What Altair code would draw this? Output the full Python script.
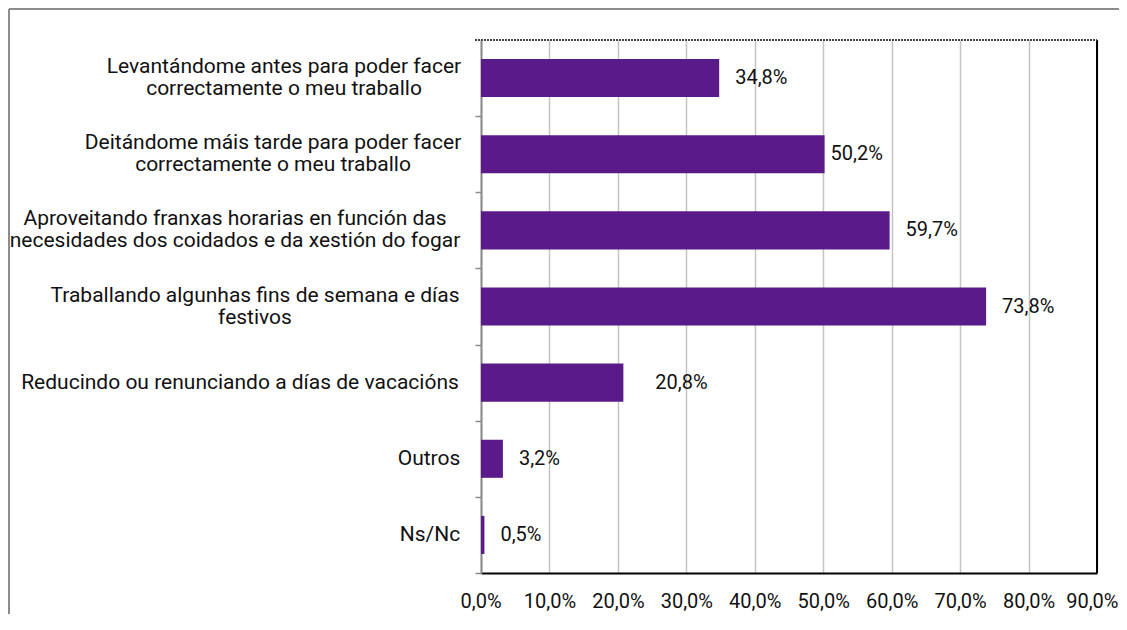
import altair as alt
import pandas as pd

categories = [
    "Levantándome antes para poder facer|correctamente o meu traballo",
    "Deitándome máis tarde para poder facer|correctamente o meu traballo",
    "Aproveitando franxas horarias en función das|necesidades dos coidados e da xestión do fogar",
    "Traballando algunhas fins de semana e días|festivos",
    "Reducindo ou renunciando a días de vacacións",
    "Outros",
    "Ns/Nc",
]
values = [34.8, 50.2, 59.7, 73.8, 20.8, 3.2, 0.5]
x_ticks = [0, 10, 20, 30, 40, 50, 60, 70, 80, 90]

# style only: gap (px) between bar end and its value label
value_label_gap = [16, 6, 16, 16, 32, 16, 16]
# style only: horizontal centre of each category label block, px left of the plot
label_centre = [
    ("Levant", -197), ("Deit", -208), ("Aprov", -246), ("Traball", -226),
    ("Reduc", -241), ("Outros", -52), ("Ns/", -51),
]

df = pd.DataFrame({"cat": categories, "val": values, "gap": value_label_gap})

W, H = 616, 533
STEP = H / 7.0
XMAX = 90
PURPLE = "#5b1a89"
FONT = "Roboto"
TXT = "#111111"

x_scale = alt.Scale(domain=[0, XMAX], nice=False, zero=True)
y_scale = alt.Scale(paddingInner=0.5, paddingOuter=0.25)

base = alt.Chart(df)

bars = base.mark_bar(color=PURPLE).encode(
    y=alt.Y("cat:N", sort=None, scale=y_scale, title=None,
            axis=alt.Axis(
                labels=False,
                tickOffset=STEP / 2, tickSize=6, tickColor="#8c8c8c", tickWidth=1.5,
                domainColor="#8c8c8c", domainWidth=2,
                grid=False,
            )),
    x=alt.X("val:Q", scale=x_scale, title=None,
            axis=alt.Axis(
                values=x_ticks,
                labelExpr="replace(format(datum.value, '.1f'), '.', ',') + '%'",
                labelFont=FONT, labelFontSize=20, labelColor=TXT,
                labelPadding=18, ticks=False,
                labelFlush=True, labelFlushOffset=21,
                domainColor="#000000", domainWidth=2,
                grid=True, gridColor="#c4c4c4", gridWidth=1.5,
            )),
)

values_text = base.mark_text(align="left", baseline="middle", font=FONT,
                             fontSize=20, color=TXT).transform_calculate(
    lbl="replace(format(datum.val, '.1f'), '.', ',') + '%'",
    tx=f"datum.val + datum.gap * {XMAX} / {W}",
).encode(
    y=alt.Y("cat:N", sort=None, scale=y_scale),
    x=alt.X("tx:Q", scale=x_scale),
    text="lbl:N",
)

centre_expr = ""
for k, v in label_centre:
    centre_expr += f"indexof(datum.cat, '{k}') === 0 ? {v} : "
centre_expr += "-20"

cat_two = base.transform_filter("indexof(datum.cat, '|') >= 0").transform_calculate(
    lx=centre_expr
).mark_text(
    align="center", baseline="middle", lineBreak="|", lineHeight=22, dy=-11,
    font=FONT, fontSize=21, color=TXT,
).encode(
    y=alt.Y("cat:N", sort=None, scale=y_scale),
    x=alt.X("lx:Q", scale=None),
    text="cat:N",
)
cat_one = base.transform_filter("indexof(datum.cat, '|') < 0").transform_calculate(
    lx=centre_expr
).mark_text(
    align="center", baseline="middle",
    font=FONT, fontSize=21, color=TXT,
).encode(
    y=alt.Y("cat:N", sort=None, scale=y_scale),
    x=alt.X("lx:Q", scale=None),
    text="cat:N",
)

frame_df = pd.DataFrame({"a": [0]})
right_rule = alt.Chart(frame_df).mark_rule(color="#000000", strokeWidth=2).encode(
    x=alt.datum(XMAX, scale=x_scale)
)
top_rule = alt.Chart(frame_df).mark_rule(color="#444444", strokeWidth=2,
                                         strokeDash=[2, 1]).encode(
    x=alt.value(-6), x2=alt.value(W), y=alt.value(0)
)
outer_top = alt.Chart(frame_df).mark_rule(color="#8c8c8c", strokeWidth=2).encode(
    x=alt.value(-472), x2=alt.value(W + 60), y=alt.value(-31)
)
outer_left = alt.Chart(frame_df).mark_rule(color="#8c8c8c", strokeWidth=2).encode(
    x=alt.value(-472), y=alt.value(-31), y2=alt.value(H + 80)
)

chart = alt.layer(outer_top, outer_left, bars, values_text, cat_two, cat_one,
                  right_rule, top_rule).properties(
    width=W, height=H,
    autosize=alt.AutoSizeParams(type="none"),
    padding={"left": 473, "top": 32, "right": 22, "bottom": 41},
).configure(font=FONT, background="white").configure_view(stroke=None)

chart.save("out.html", embed_options={"renderer": "svg", "actions": False})
